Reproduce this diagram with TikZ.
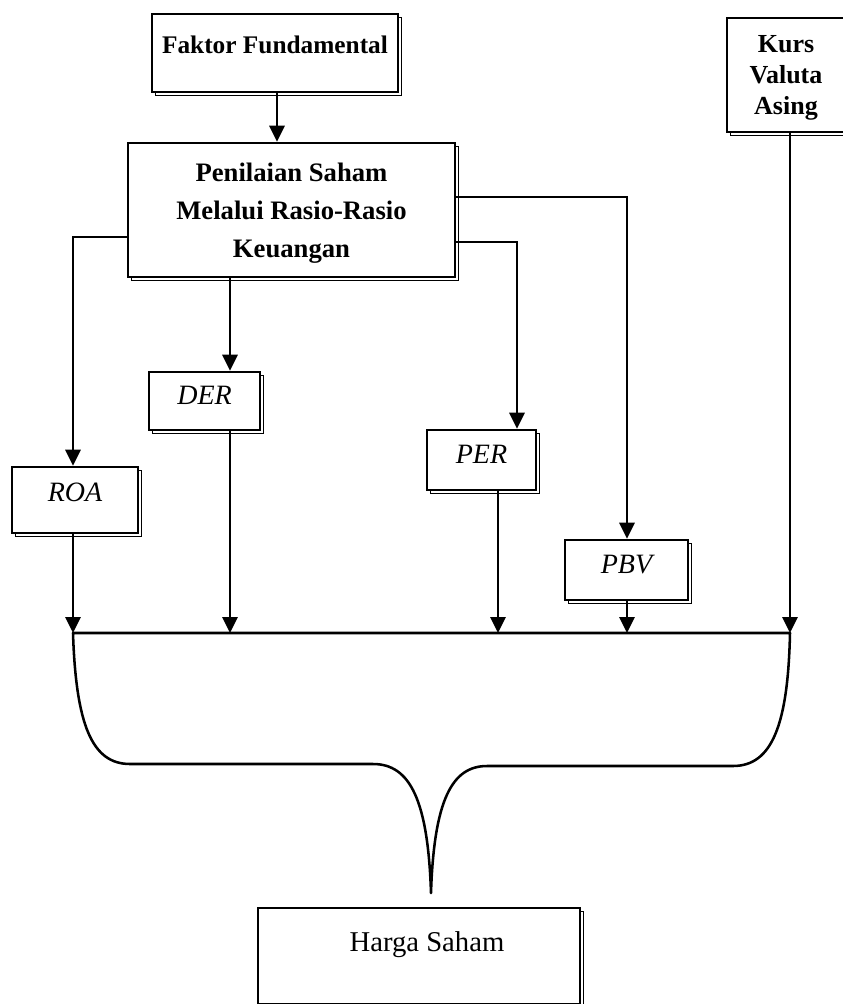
\documentclass[tikz,border=0pt]{standalone}
\usepackage{fontspec}
\setmainfont{Liberation Serif}
\usetikzlibrary{arrows.meta,shadows,calc}
\begin{document}
\begin{tikzpicture}[x=0.75pt,y=-0.75pt,
  box/.style={draw, line width=1.9pt, fill=white, inner sep=0pt, align=center,
    copy shadow={shadow xshift=2.8pt, shadow yshift=-2.8pt, draw, line width=0.8pt, fill=white}},
  arr/.style={line width=1.7pt, -{Triangle[length=12pt,width=11.5pt]}},
  ft/.style={font=\bfseries\fontsize{19}{23}\selectfont},
  bt/.style={font=\bfseries\fontsize{20}{28.5}\selectfont},
  kt/.style={font=\bfseries\fontsize{19.5}{23.6}\selectfont},
  it/.style={font=\itshape\fontsize{21}{24}\selectfont},
  rt/.style={font=\fontsize{21.5}{24}\selectfont},
  brace/.style={line width=1.9pt, line join=round}
]
\useasboundingbox (0,0) rectangle (843,1004);

\node[box,ft,minimum width=184.5pt,minimum height=58.5pt] (faktor) at (275,53) {\raisebox{12pt}{Faktor Fundamental}};
\node[box,bt,minimum width=245.25pt,minimum height=100.5pt] (nilai) at (291.5,210) {\rule{0pt}{19pt}Penilaian Saham\\Melalui Rasio-Rasio\\Keuangan};
\node[box,kt,minimum width=88.5pt,minimum height=85.5pt] (kurs) at (786,75) {\rule{0pt}{17pt}Kurs\\Valuta\\Asing};

\node[box,it,minimum width=83.25pt,minimum height=43.5pt] (der) at (204.5,401) {\raisebox{9pt}{DER}};
\node[box,it,minimum width=81.75pt,minimum height=45pt] (per) at (481.5,460) {\raisebox{9pt}{PER}};
\node[box,it,minimum width=94.5pt,minimum height=49.5pt] (roa) at (75,500) {\raisebox{12pt}{ROA}};
\node[box,it,minimum width=92.25pt,minimum height=45pt] (pbv) at (626.5,570) {\raisebox{9pt}{PBV}};

\node[box,rt,minimum width=241.5pt,minimum height=72pt] (harga) at (419,956) {\hspace*{12pt}\raisebox{21pt}{Harga Saham}};

\coordinate (xA) at (277,0);
\coordinate (yL) at (0,237);
\coordinate (yP) at (0,242);
\coordinate (yB) at (0,197);
\coordinate (xD) at (230,0);
\coordinate (xPi) at (517,0);
\coordinate (xPo) at (498,0);
\coordinate (xB) at (627,0);
\coordinate (xK) at (790,0);
\coordinate (xL) at (73,0);
\coordinate (top) at (0,633);

\draw[arr] (faktor.south -| xA) -- (nilai.north -| xA);
\draw[arr] (nilai.west |- yL) -| (roa.north -| xL);
\draw[arr] (nilai.south -| xD) -- (der.north -| xD);
\draw[arr] (nilai.east |- yP) -| (per.north -| xPi);
\draw[arr] (nilai.east |- yB) -| (pbv.north -| xB);
\draw[arr] (kurs.south -| xK) -- (top -| xK);
\draw[arr] (roa.south -| xL) -- (top -| xL);
\draw[arr] (der.south -| xD) -- (top -| xD);
\draw[arr] (per.south -| xPo) -- (top -| xPo);
\draw[arr] (pbv.south -| xB) -- (top -| xB);

\draw[brace] (73,633) -- (790,633)
  .. controls (788,725) and (772,766) .. (733,766) -- (487,766)
  .. controls (452,766) and (434,800) .. (431,893)
  .. controls (428,800) and (410,764) .. (373,764) -- (130,764)
  .. controls (92,764) and (76,725) .. (73,633) -- cycle;
\end{tikzpicture}
\end{document}
